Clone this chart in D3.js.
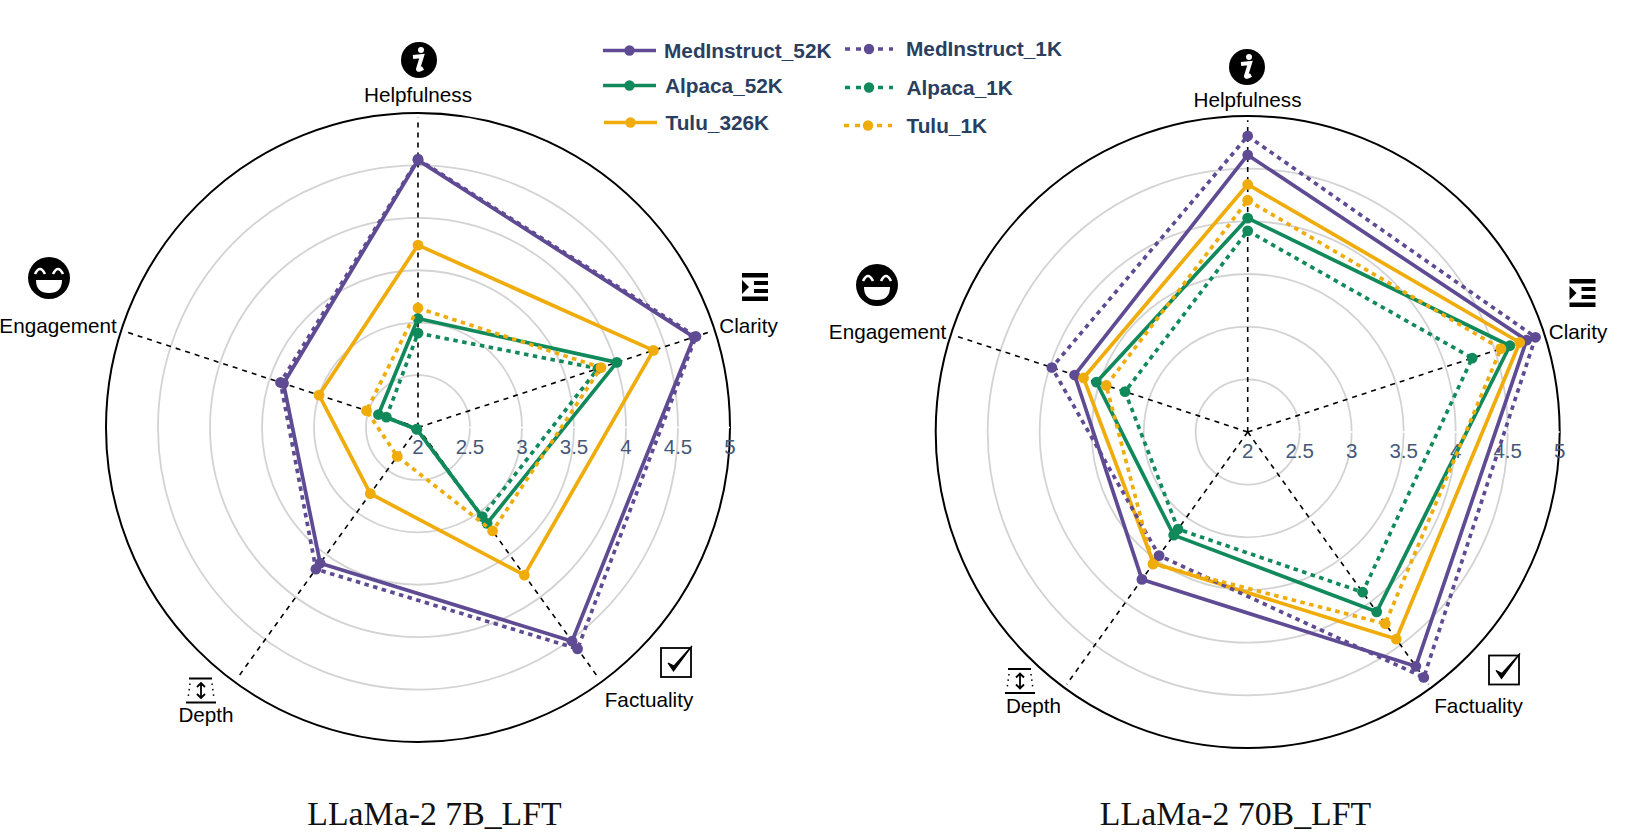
<!DOCTYPE html>
<meta charset="utf-8">
<style>
html,body{margin:0;padding:0;background:#fff;overflow:hidden}
svg{display:block}
</style>
<body>
<script src="https://d3js.org/d3.v7.min.js"></script>
<script>
// axes, clockwise from the top
var categories = ["Helpfulness", "Clarity", "Factuality", "Depth", "Engagement"];
var radialTicks = [2, 2.5, 3, 3.5, 4, 4.5, 5];
var seriesNames = ["MedInstruct_52K", "Alpaca_52K", "Tulu_326K", "MedInstruct_1K", "Alpaca_1K", "Tulu_1K"];

// LLaMa-2 7B_LFT
var med52_7b = [4.55, 4.79, 4.52, 3.60, 3.36];
var alp52_7b = [3.04, 4.01, 3.13, 2.02, 2.40];
var tul326_7b = [3.74, 4.38, 3.74, 2.78, 3.00];
var med1_7b = [4.56, 4.81, 4.61, 3.67, 3.39];
var alp1_7b = [2.90, 3.82, 3.05, 2.02, 2.32];
var tul1_7b = [3.14, 3.85, 3.22, 2.34, 2.52];

// LLaMa-2 70B_LFT
var med52_70b = [4.63, 4.82, 4.75, 3.73, 3.75];
var alp52_70b = [4.03, 4.65, 4.11, 3.21, 3.53];
var tul326_70b = [4.35, 4.75, 4.43, 3.54, 3.66];
var med1_70b = [4.81, 4.91, 4.88, 3.45, 3.98];
var alp1_70b = [3.91, 4.27, 3.88, 3.14, 3.24];
var tul1_70b = [4.20, 4.56, 4.25, 3.55, 3.43];

var purple = "#5f4b93", green = "#118a5b", yellow = "#efac0b";
var inkBlue = "#2a3f5f";
var colors = d3.scaleOrdinal().domain(seriesNames)
  .range([purple, green, yellow, purple, green, yellow]);
var isDotted = function(name) { return /_1K$/.test(name); };

var svg = d3.select("body").append("svg").attr("width", 1644).attr("height", 835);

var angle = d3.scalePoint().domain(categories).range([0, 2 * Math.PI * 4 / 5]);
var radial = d3.scaleLinear().domain([2, 5]).range([0, 1]);

function drawRadar(p) {
  var g = svg.append("g");
  var px = function(v, cat) { return p.cx + p.rx * radial(v) * Math.sin(angle(cat)); };
  var py = function(v, cat) { return p.cy - p.ry * radial(v) * Math.cos(angle(cat)); };

  // rings
  g.selectAll(".ring").data(radialTicks.slice(1)).enter().append("ellipse")
    .attr("cx", p.cx).attr("cy", p.cy)
    .attr("rx", function(d) { return p.rx * radial(d); })
    .attr("ry", function(d) { return p.ry * radial(d); })
    .attr("fill", "none")
    .attr("stroke", function(d) { return d == 5 ? "#000" : "#d3d3d3"; })
    .attr("stroke-width", function(d) { return d == 5 ? 2 : 1.8; });

  // radial axis line is white, it cuts the rings
  g.append("line")
    .attr("x1", p.cx).attr("y1", p.cy)
    .attr("x2", p.cx + p.rx).attr("y2", p.cy)
    .attr("stroke", "#fff").attr("stroke-width", 1.5);

  g.selectAll(".spoke").data(categories).enter().append("line")
    .attr("x1", p.cx).attr("y1", p.cy)
    .attr("x2", function(d) { return px(4.96, d); })
    .attr("y2", function(d) { return py(4.96, d); })
    .attr("stroke", "#000").attr("stroke-width", 1.6)
    .attr("stroke-dasharray", "5,5");

  g.selectAll(".tick").data(radialTicks).enter().append("text")
    .attr("x", function(d) { return p.cx + p.rx * radial(d); })
    .attr("y", p.cy + 26)
    .attr("text-anchor", "middle")
    .attr("font-family", "'Liberation Sans', Arial, sans-serif")
    .attr("font-size", "20.5px")
    .attr("fill", "#44587a")
    .text(function(d) { return d; });

  var line = d3.line()
    .x(function(d) { return px(d.v, d.c); })
    .y(function(d) { return py(d.v, d.c); })
    .curve(d3.curveLinearClosed);

  seriesNames.forEach(function(name, i) {
    var pts = p.values[i].map(function(v, j) { return {v: v, c: categories[j]}; });
    var s = g.append("g");
    s.append("path").attr("d", line(pts))
      .attr("fill", "none")
      .attr("stroke", colors(name))
      .attr("stroke-width", 3.7)
      .attr("stroke-linejoin", "round")
      .attr("stroke-dasharray", isDotted(name) ? "4.5,4.5" : null);
    s.selectAll("circle").data(pts).enter().append("circle")
      .attr("cx", function(d) { return px(d.v, d.c); })
      .attr("cy", function(d) { return py(d.v, d.c); })
      .attr("r", 5.4)
      .attr("fill", colors(name));
  });

  // axis names
  g.selectAll(".lab").data(categories).enter().append("text")
    .attr("x", function(d, i) { return p.labels[i][0]; })
    .attr("y", function(d, i) { return p.labels[i][1]; })
    .attr("text-anchor", "middle")
    .attr("font-family", "'Liberation Sans', Arial, sans-serif")
    .attr("font-size", "20.7px")
    .attr("fill", "#000")
    .text(function(d) { return d; });

  g.append("text")
    .attr("x", p.titleX).attr("y", 825)
    .attr("text-anchor", "middle")
    .attr("font-family", "'Liberation Serif', 'Times New Roman', serif")
    .attr("font-size", "33.8px")
    .attr("fill", "#111")
    .text(p.title);

  infoIcon(g, p.icons.info[0], p.icons.info[1]);
  listIcon(g, p.icons.list[0], p.icons.list[1]);
  checkIcon(g, p.icons.check[0], p.icons.check[1]);
  depthIcon(g, p.icons.depth[0], p.icons.depth[1]);
  smileIcon(g, p.icons.smile[0], p.icons.smile[1]);
}

function infoIcon(g, x, y) {
  var i = g.append("g").attr("transform", "translate(" + x + "," + y + ")");
  i.append("circle").attr("r", 18).attr("fill", "#000");
  i.append("circle").attr("cx", 2).attr("cy", -10).attr("r", 3).attr("fill", "#fff");
  i.append("path").attr("d", "M-6,-3 L3,-4 L-1,9 Q-1,11 4,8")
    .attr("fill", "none").attr("stroke", "#fff").attr("stroke-width", 4);
}

function listIcon(g, x, y) {
  var i = g.append("g").attr("transform", "translate(" + x + "," + y + ")").attr("fill", "#000");
  i.append("rect").attr("width", 26).attr("height", 4.5);
  i.append("rect").attr("y", 23.5).attr("width", 26).attr("height", 4.5);
  i.append("rect").attr("x", 12).attr("y", 8).attr("width", 14).attr("height", 4);
  i.append("rect").attr("x", 12).attr("y", 16).attr("width", 14).attr("height", 4);
  i.append("path").attr("d", "M0,7 L7,14 L0,21 Z");
}

function checkIcon(g, x, y) {
  var i = g.append("g").attr("transform", "translate(" + x + "," + y + ")");
  i.append("rect").attr("width", 30).attr("height", 29)
    .attr("fill", "#fff").attr("stroke", "#000").attr("stroke-width", 1.8);
  i.append("path").attr("d", "M7,15 L12.5,23 L31,-2 L13,18 Z")
    .attr("fill", "#000").attr("stroke", "#000").attr("stroke-width", 1.2);
}

function depthIcon(g, x, y) {
  var i = g.append("g").attr("transform", "translate(" + x + "," + y + ")");
  i.append("line").attr("x1", 3).attr("x2", 26).attr("y1", 0).attr("y2", 0)
    .attr("stroke", "#000").attr("stroke-width", 2);
  i.append("line").attr("x1", 0).attr("x2", 30).attr("y1", 24).attr("y2", 24)
    .attr("stroke", "#000").attr("stroke-width", 2);
  i.append("path").attr("d", "M4,5 L2,20 M26,5 L28,20")
    .attr("fill", "none").attr("stroke", "#000").attr("stroke-width", 1.5).attr("stroke-dasharray", "1.5,4");
  i.append("path").attr("d", "M15,5 L15,19 M11,8.5 L15,4.5 L19,8.5 M11,15.5 L15,19.5 L19,15.5")
    .attr("fill", "none").attr("stroke", "#000").attr("stroke-width", 1.8);
}

function smileIcon(g, x, y) {
  var i = g.append("g").attr("transform", "translate(" + x + "," + y + ")");
  i.append("circle").attr("r", 21).attr("fill", "#000");
  i.append("path").attr("d", "M-14,-4 Q-9,-14 -4,-4 M4,-4 Q9,-14 14,-4")
    .attr("fill", "none").attr("stroke", "#fff").attr("stroke-width", 2.6);
  i.append("path").attr("d", "M-13,2 L13,2 Q13,15 0,15 Q-13,15 -13,2 Z").attr("fill", "#fff");
}

drawRadar({
  cx: 418, cy: 427.5, rx: 312, ry: 314.5,
  title: "LLaMa-2 7B_LFT", titleX: 434.5,
  values: [med52_7b, alp52_7b, tul326_7b, med1_7b, alp1_7b, tul1_7b],
  labels: [[418, 102], [748.5, 333], [649, 707], [206, 722], [58, 333]],
  icons: {info: [419, 60], list: [742, 273], check: [661, 648], depth: [186, 678.5], smile: [49, 278]}
});

drawRadar({
  cx: 1247.7, cy: 432, rx: 312, ry: 316,
  title: "LLaMa-2 70B_LFT", titleX: 1235.5,
  values: [med52_70b, alp52_70b, tul326_70b, med1_70b, alp1_70b, tul1_70b],
  labels: [[1247.5, 107], [1578, 339], [1478.5, 713], [1033.5, 712.5], [887.5, 339]],
  icons: {info: [1247, 67], list: [1569.5, 279], check: [1489, 655.5], depth: [1005, 669], smile: [877, 285]}
});

// legend, two columns that do not quite line up in the source
var legendRows = [
  {lx: 603, tx: 664, y: 50.5},
  {lx: 603, tx: 665, y: 85.5},
  {lx: 604, tx: 665.5, y: 122.5},
  {lx: 845, tx: 906, y: 49},
  {lx: 845, tx: 906.5, y: 87.5},
  {lx: 844, tx: 906.5, y: 125.5}
];
var legend = svg.append("g");
seriesNames.forEach(function(name, i) {
  var r = legendRows[i];
  var len = isDotted(name) ? 48 : 53;
  legend.append("line")
    .attr("x1", r.lx).attr("x2", r.lx + len)
    .attr("y1", r.y).attr("y2", r.y)
    .attr("stroke", colors(name)).attr("stroke-width", 3.6)
    .attr("stroke-dasharray", isDotted(name) ? "5,6" : null);
  legend.append("circle")
    .attr("cx", r.lx + len / 2).attr("cy", r.y).attr("r", 5.2)
    .attr("fill", colors(name));
  legend.append("text")
    .attr("transform", "translate(" + r.tx + "," + (r.y + 7) + ") scale(1.04,1)")
    .attr("font-family", "'Liberation Sans', Arial, sans-serif")
    .attr("font-weight", "bold")
    .attr("font-size", "20px")
    .attr("fill", inkBlue)
    .text(name);
});
</script>
</body>
</html>
